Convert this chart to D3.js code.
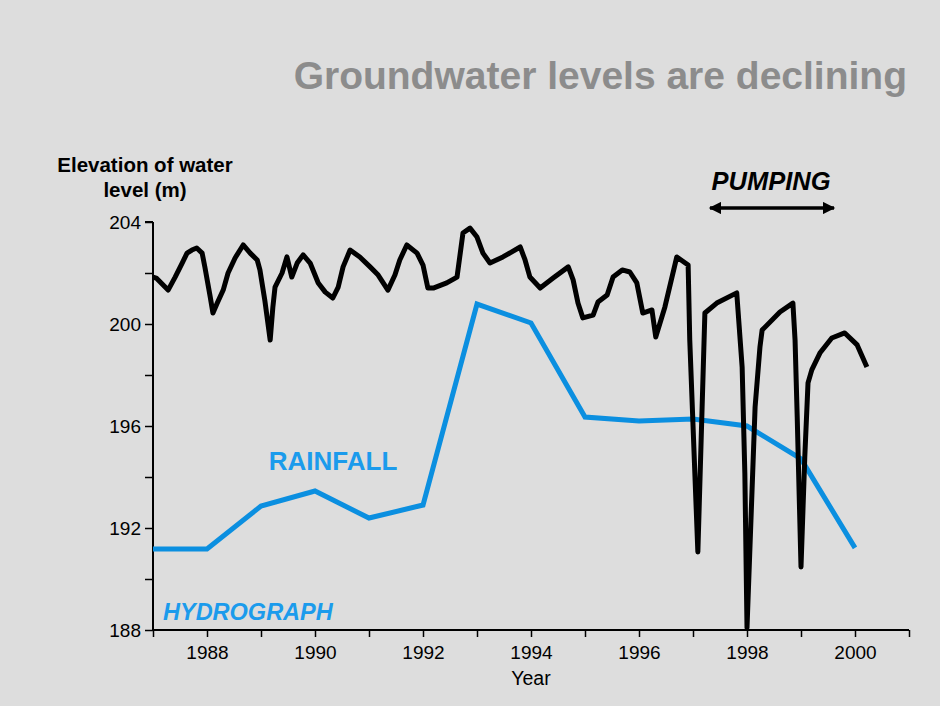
<!DOCTYPE html>
<html>
<head>
<meta charset="utf-8">
<script src="https://cdn.jsdelivr.net/npm/d3@7"></script>
<style>
    body { margin: 0; background: #ffffff; }
    svg { display: block; font-family: "Liberation Sans", Arial, sans-serif; }
</style>
</head>
<body>
<div id="chart"></div>
<script>
const width = 945;
const height = 711;

// black trace: water level record
const hydroYears = [
    1987.00, 1987.06, 1987.28, 1987.41, 1987.54, 1987.63, 1987.72, 1987.81, 1987.91, 1987.96,
    1988.06, 1988.11, 1988.19, 1988.30, 1988.39, 1988.52, 1988.67, 1988.80, 1988.93, 1988.98,
    1989.07, 1989.17, 1989.22, 1989.26, 1989.39, 1989.48, 1989.57, 1989.67, 1989.78, 1989.91,
    1990.06, 1990.19, 1990.33, 1990.43, 1990.52, 1990.65, 1990.83, 1991.02, 1991.17, 1991.35,
    1991.48, 1991.57, 1991.70, 1991.89, 1992.00, 1992.09, 1992.19, 1992.44, 1992.63, 1992.69,
    1992.74, 1992.87, 1993.00, 1993.11, 1993.24, 1993.48, 1993.80, 1993.89, 1993.98, 1994.17,
    1994.41, 1994.69, 1994.78, 1994.87, 1994.96, 1995.15, 1995.24, 1995.41, 1995.52, 1995.69,
    1995.83, 1995.96, 1996.07, 1996.24, 1996.31, 1996.48, 1996.70, 1996.91, 1996.94, 1997.09,
    1997.22, 1997.44, 1997.81, 1997.91, 1997.96, 1998.00, 1998.15, 1998.24, 1998.28, 1998.61,
    1998.85, 1998.89, 1998.93, 1999.00, 1999.07, 1999.13, 1999.20, 1999.35, 1999.57, 1999.81,
    2000.04, 2000.22
];
const hydroLevels = [
    201.84, 201.80, 201.33, 201.84, 202.39, 202.78, 202.90, 202.98, 202.78, 202.24,
    201.06, 200.43, 200.82, 201.33, 202.00, 202.59, 203.10, 202.78, 202.51, 202.12,
    200.94, 199.37, 200.67, 201.45, 202.00, 202.63, 201.84, 202.39, 202.71, 202.39,
    201.61, 201.25, 201.02, 201.45, 202.24, 202.90, 202.63, 202.24, 201.92, 201.33,
    201.92, 202.51, 203.10, 202.78, 202.31, 201.41, 201.41, 201.61, 201.84, 202.78,
    203.57, 203.76, 203.41, 202.78, 202.39, 202.63, 203.02, 202.51, 201.84, 201.41,
    201.80, 202.24, 201.73, 200.82, 200.24, 200.35, 200.86, 201.14, 201.84, 202.12,
    202.04, 201.61, 200.43, 200.55, 199.49, 200.67, 202.63, 202.31, 199.37, 191.06,
    200.43, 200.82, 201.22, 198.31, 194.16, 188.08, 196.75, 199.10, 199.76, 200.47,
    200.82, 199.37, 196.35, 190.47, 194.78, 197.69, 198.20, 198.86, 199.45, 199.65,
    199.18, 198.31
];

// blue trace, one value per year
const rainYears = [1987, 1988, 1989, 1990, 1991, 1992, 1993, 1994, 1995, 1996, 1997, 1998, 1999, 2000];
const rainLevels = [191.18, 191.18, 192.86, 193.45, 192.39, 192.90, 200.78, 200.04, 196.35, 196.20, 196.27, 196.00, 194.71, 191.22];

const yTicks = [188, 190, 192, 194, 196, 198, 200, 202, 204];
const yLabels = [188, 192, 196, 200, 204];
const xTicks = d3.range(1987, 2002);
const xLabels = [1988, 1990, 1992, 1994, 1996, 1998, 2000];

const blue = "#0b8fe0";
const blueText = "#1b9bec";

const x = d3.scaleLinear().domain([1987, 2001]).range([153, 909]);
const y = d3.scaleLinear().domain([188, 204]).range([630, 222]);

const svg = d3.select("#chart")
    .append("svg")
    .attr("width", width)
    .attr("height", height)
    .attr("viewBox", [0, 0, width, height]);

svg.append("rect")
    .attr("x", 0).attr("y", 0)
    .attr("width", 940).attr("height", 706)
    .attr("fill", "#dddddd");

svg.append("text")
    .attr("x", 907).attr("y", 89)
    .attr("text-anchor", "end")
    .attr("font-size", 39)
    .attr("font-weight", "bold")
    .attr("fill", "#8c8c8c")
    .text("Groundwater levels are declining");

// axes
const yAxis = d3.axisLeft(y)
    .tickValues(yTicks)
    .tickSize(8)
    .tickFormat(d => yLabels.includes(d) ? d : "");

const xAxis = d3.axisBottom(x)
    .tickValues(xTicks)
    .tickSize(7)
    .tickFormat(d => xLabels.includes(d) ? d : "");

const gy = svg.append("g")
    .attr("transform", `translate(${x(1987)},0)`)
    .call(yAxis);

const gx = svg.append("g")
    .attr("transform", `translate(0,${y(188)})`)
    .call(xAxis);

[gx, gy].forEach(g => {
    g.select(".domain").attr("stroke", "#000").attr("stroke-width", 2);
    g.selectAll(".tick line").attr("stroke", "#000").attr("stroke-width", 1.5);
    g.selectAll(".tick text")
        .attr("fill", "#000")
        .attr("font-size", 19)
        .attr("font-family", "Liberation Sans, Arial, sans-serif");
});
gy.select(".domain").attr("d", `M0,${y(204)}H-8M0,${y(204)}V${y(188)}`);
gx.select(".domain").attr("d", `M${x(1987)},0H${x(2001)}`);
gy.selectAll(".tick text").attr("x", -12);
gx.selectAll(".tick text").attr("y", 16);

svg.append("text")
    .attr("x", x(1994)).attr("y", 685)
    .attr("text-anchor", "middle")
    .attr("font-size", 19.5)
    .text("Year");

const yTitle = svg.append("text")
    .attr("text-anchor", "middle")
    .attr("font-size", 20.5)
    .attr("font-weight", "bold")
    .attr("fill", "#000");
yTitle.append("tspan").attr("x", 145).attr("y", 172).text("Elevation of water");
yTitle.append("tspan").attr("x", 145).attr("y", 197).text("level (m)");

// lines
const line = d3.line()
    .x(d => x(d[0]))
    .y(d => y(d[1]));

svg.append("path")
    .datum(rainYears.map((d, i) => [d, rainLevels[i]]))
    .attr("fill", "none")
    .attr("stroke", blue)
    .attr("stroke-width", 5)
    .attr("stroke-linejoin", "miter")
    .attr("d", line);

svg.append("path")
    .datum(hydroYears.map((d, i) => [d, hydroLevels[i]]))
    .attr("fill", "none")
    .attr("stroke", "#000")
    .attr("stroke-width", 5)
    .attr("stroke-linejoin", "round")
    .attr("d", line);

// annotations
svg.append("text")
    .attr("x", 333).attr("y", 470)
    .attr("text-anchor", "middle")
    .attr("font-size", 26)
    .attr("font-weight", "bold")
    .attr("fill", blueText)
    .text("RAINFALL");

svg.append("text")
    .attr("x", 163).attr("y", 620)
    .attr("font-size", 23.5)
    .attr("font-weight", "bold")
    .attr("font-style", "italic")
    .attr("fill", blueText)
    .text("HYDROGRAPH");

svg.append("text")
    .attr("x", 771).attr("y", 190)
    .attr("text-anchor", "middle")
    .attr("font-size", 25.5)
    .attr("font-weight", "bold")
    .attr("font-style", "italic")
    .attr("fill", "#000")
    .text("PUMPING");

const defs = svg.append("defs");
defs.append("marker")
    .attr("id", "head")
    .attr("viewBox", "0 -5 10 10")
    .attr("refX", 9).attr("refY", 0)
    .attr("markerWidth", 5).attr("markerHeight", 3.5)
    .attr("orient", "auto-start-reverse")
    .append("path")
    .attr("d", "M0,-5L10,0L0,5Z")
    .attr("fill", "#000");

svg.append("line")
    .attr("x1", 710).attr("x2", 834)
    .attr("y1", 208).attr("y2", 208)
    .attr("stroke", "#000")
    .attr("stroke-width", 3.5)
    .attr("marker-start", "url(#head)")
    .attr("marker-end", "url(#head)");
</script>
</body>
</html>
